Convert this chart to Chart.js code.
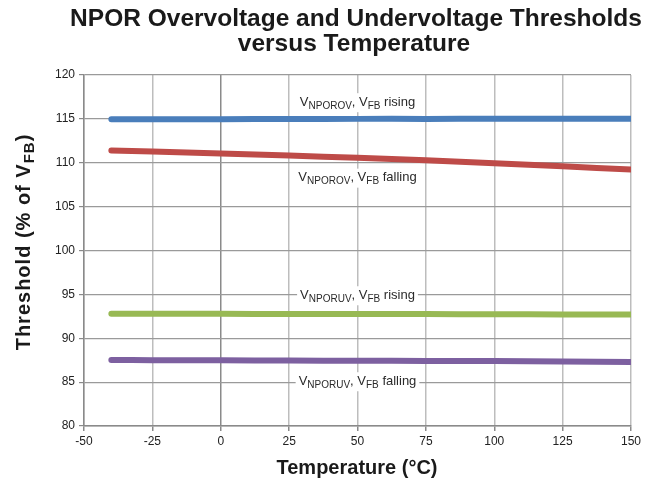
<!DOCTYPE html>
<html>
<head>
<meta charset="utf-8">
<script src="https://cdn.jsdelivr.net/npm/chart.js@4"></script>
<style>
  html, body { margin: 0; padding: 0; background: #fff; }
  #wrap { width: 658px; height: 486px; }
</style>
</head>
<body>
<div id="wrap"><canvas id="chart" width="658" height="486"></canvas></div>
<script>
// temperatures (°C)
const temps = [-40, -25, 0, 25, 50, 75, 100, 125, 150];
// thresholds (% of VFB)
const ovRising  = [114.95, 114.96, 114.97, 114.98, 115.0, 115.0, 115.01, 115.02, 115.02];
const ovFalling = [111.4, 111.28, 111.05, 110.82, 110.57, 110.28, 109.95, 109.6, 109.22];
const uvRising  = [92.8, 92.8, 92.78, 92.77, 92.76, 92.75, 92.74, 92.72, 92.7];
const uvFalling = [87.52, 87.5, 87.48, 87.46, 87.44, 87.42, 87.4, 87.35, 87.3];

const xTicks = [-50, -25, 0, 25, 50, 75, 100, 125, 150];
const yTicks = [80, 85, 90, 95, 100, 105, 110, 115, 120];

const FONT = '"Liberation Sans", Arial, sans-serif';

// curve labels: [x, y] in data units, then text parts (sub = subscript)
const curveLabels = [
  { at: [50, 116.9], parts: [['V'], ['NPOROV', 1], [', V'], ['FB', 1], [' rising']] },
  { at: [50, 108.3], parts: [['V'], ['NPOROV', 1], [', V'], ['FB', 1], [' falling']] },
  { at: [50, 94.9],  parts: [['V'], ['NPORUV', 1], [', V'], ['FB', 1], [' rising']] },
  { at: [50, 85.1],  parts: [['V'], ['NPORUV', 1], [', V'], ['FB', 1], [' falling']] }
];

function drawParts(ctx, parts, x, y, size, subSize, weight, align) {
  const widths = parts.map(p => {
    ctx.font = weight + ' ' + (p[1] ? subSize : size) + 'px ' + FONT;
    return ctx.measureText(p[0]).width;
  });
  const total = widths.reduce((a, b) => a + b, 0);
  let cx = align === 'center' ? x - total / 2 : x;
  parts.forEach((p, i) => {
    ctx.font = weight + ' ' + (p[1] ? subSize : size) + 'px ' + FONT;
    ctx.fillText(p[0], cx, p[1] ? y + size * 0.28 : y);
    cx += widths[i];
  });
  return total;
}

const textPlugin = {
  id: 'texts',
  afterDatasetsDraw(chart) {
    const ctx = chart.ctx;
    const xs = chart.scales.x, ys = chart.scales.y;
    ctx.save();
    ctx.textBaseline = 'middle';
    ctx.textAlign = 'left';
    curveLabels.forEach(l => {
      const px = xs.getPixelForValue(l.at[0]);
      const py = ys.getPixelForValue(l.at[1]);
      ctx.fillStyle = 'rgba(0,0,0,0)';
      const w = drawParts(ctx, l.parts, px, py, 13, 10, 'normal', 'center');
      ctx.fillStyle = '#fff';
      ctx.fillRect(px - w / 2 - 3, py - 9, w + 6, 19);
      ctx.fillStyle = '#2a2a2a';
      drawParts(ctx, l.parts, px, py, 13, 10, 'normal', 'center');
    });
    ctx.restore();
  },
  afterDraw(chart) {
    const ctx = chart.ctx;
    ctx.save();
    ctx.fillStyle = '#1a1a1a';
    ctx.textBaseline = 'middle';
    ctx.textAlign = 'center';
    ctx.font = 'bold 24.5px ' + FONT;
    ctx.fillText('NPOR Overvoltage and Undervoltage Thresholds', 356, 19);
    ctx.fillText('versus Temperature', 354, 44.5);
    ctx.font = 'bold 20px ' + FONT;
    ctx.fillText('Temperature (°C)', 357, 468);
    // y axis title with subscript
    ctx.translate(24, 242);
    ctx.rotate(-Math.PI / 2);
    ctx.textAlign = 'left';
    ctx.letterSpacing = '1px';
    const parts = [['Threshold (% of V'], ['FB', 1], [')']];
    ctx.fillStyle = 'rgba(0,0,0,0)';
    const w = drawParts(ctx, parts, 0, 0, 20, 15, 'bold', 'left');
    ctx.fillStyle = '#1a1a1a';
    drawParts(ctx, parts, -w / 2, 0, 20, 15, 'bold', 'left');
    ctx.restore();
  }
};

function series(vals) {
  return temps.map((t, i) => ({ x: t, y: vals[i] }));
}

const lineStyle = { borderWidth: 6, pointRadius: 0, fill: false, tension: 0.2, borderCapStyle: 'round', borderJoinStyle: 'round' };

new Chart(document.getElementById('chart').getContext('2d'), {
  type: 'line',
  data: {
    datasets: [
      Object.assign({ label: 'OV rising', data: series(ovRising), borderColor: '#4A7EBB' }, lineStyle),
      Object.assign({ label: 'OV falling', data: series(ovFalling), borderColor: '#BE4B48' }, lineStyle),
      Object.assign({ label: 'UV rising', data: series(uvRising), borderColor: '#98B954' }, lineStyle),
      Object.assign({ label: 'UV falling', data: series(uvFalling), borderColor: '#7D60A0' }, lineStyle)
    ]
  },
  options: {
    responsive: false,
    animation: false,
    layout: { padding: { top: 75, right: 27, left: 0, bottom: 0 } },
    plugins: { legend: { display: false }, title: { display: false }, tooltip: { enabled: false } },
    scales: {
      x: {
        type: 'linear',
        min: -50, max: 150,
        afterBuildTicks: s => { s.ticks = xTicks.map(v => ({ value: v })); },
        afterFit: s => { s.height = 60; },
        grid: {
          color: c => c.tick && c.tick.value === 0 ? '#8a8a8a' : '#bdbdbd',
          lineWidth: 1.5,
          tickLength: 5,
          tickColor: '#8a8a8a'
        },
        border: { color: '#8a8a8a', width: 1.5 },
        ticks: { color: '#222', font: { family: FONT, size: 12 }, padding: 3, maxRotation: 0 }
      },
      y: {
        min: 80, max: 120,
        afterBuildTicks: s => { s.ticks = yTicks.map(v => ({ value: v })); },
        afterFit: s => { s.width = 84; },
        grid: { color: '#9a9a9a', lineWidth: 1.2, tickLength: 5, tickColor: '#8a8a8a' },
        border: { color: '#8a8a8a', width: 1.5 },
        ticks: { color: '#222', font: { family: FONT, size: 12 }, padding: 4 }
      }
    }
  },
  plugins: [textPlugin]
});
</script>
</body>
</html>
